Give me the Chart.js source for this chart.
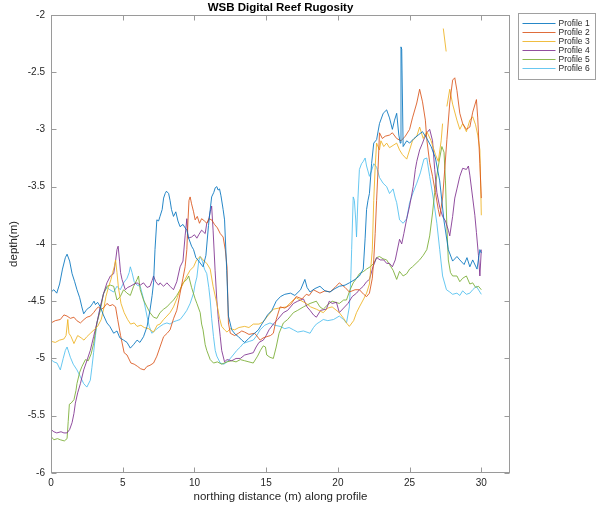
<!DOCTYPE html>
<html lang="en">
<head>
<meta charset="UTF-8">
<title>WSB Digital Reef Rugosity</title>
<style>
    html, body { margin: 0; padding: 0; background: #fff; }
    canvas { display: block; }
</style>
</head>
<body>
<canvas id="chart" width="597" height="507"></canvas>
<script src="https://cdn.jsdelivr.net/npm/chart.js@4.4.1/dist/chart.umd.min.js"></script>
<script>
    // northing distance (m) and depth (m), one pair of arrays per profile
    const dist1 = [
        0,0.2,0.4,0.6,0.8,1.0,1.12,1.3,1.47,1.65,
        1.81,2.0,2.15,2.28,2.45,2.6,2.74,2.9,3.0,3.1,
        3.25,3.44,3.65,3.9,4.1,4.37,4.6,4.8,5.06,5.3,
        5.53,5.75,6.0,6.2,6.45,6.7,6.9,7.05,7.15,7.25,
        7.38,7.5,7.6,7.75,7.85,7.96,8.05,8.2,8.3,8.4,
        8.54,8.7,8.85,9.0,9.2,9.35,9.47,9.6,9.8,9.94,
        10.1,10.3,10.6,10.8,10.98,11.1,11.2,11.35,11.45,11.56,
        11.65,11.75,11.85,12.0,12.1,12.25,12.37,12.6,12.85,13.07,
        13.3,13.5,13.75,14.0,14.2,14.46,14.7,14.9,15.1,15.4,
        15.7,16.0,16.3,16.7,17.0,17.4,17.7,17.85,18.06,18.4,
        18.75,19.1,19.45,19.8,20.1,20.5,20.8,21.2,21.5,21.77,
        21.9,22.0,22.1,22.2,22.35,22.5,22.7,22.9,23.16,23.4,
        23.6,23.8,23.95,24.1,24.25,24.35,24.4,24.45,24.55,24.8,
        25.0,25.3,25.6,25.9,26.2,26.5,26.8,27.1,27.4,27.7,
        28.0,28.3,28.5,28.8,29.0,29.2,29.4,29.7,29.9,30.0
    ];
    const depth1 = [
        -4.42,-4.40,-4.43,-4.35,-4.22,-4.12,-4.09,-4.15,-4.26,-4.33,
        -4.40,-4.47,-4.55,-4.61,-4.58,-4.56,-4.55,-4.52,-4.50,-4.53,
        -4.51,-4.55,-4.62,-4.69,-4.72,-4.78,-4.76,-4.82,-4.84,-4.86,
        -4.91,-4.88,-4.84,-4.86,-4.81,-4.72,-4.58,-4.45,-4.34,-4.05,
        -3.79,-3.80,-3.76,-3.70,-3.60,-3.56,-3.54,-3.56,-3.62,-3.70,
        -3.76,-3.72,-3.80,-3.85,-3.83,-3.86,-3.88,-3.95,-4.02,-4.05,
        -4.12,-4.15,-4.20,-4.10,-3.84,-3.70,-3.59,-3.55,-3.51,-3.50,
        -3.53,-3.52,-3.58,-3.70,-3.79,-4.23,-4.63,-4.75,-4.79,-4.81,
        -4.84,-4.86,-4.83,-4.80,-4.78,-4.75,-4.70,-4.66,-4.62,-4.58,
        -4.50,-4.46,-4.44,-4.43,-4.45,-4.40,-4.31,-4.38,-4.42,-4.39,
        -4.37,-4.41,-4.42,-4.39,-4.37,-4.36,-4.34,-4.31,-4.28,-4.22,
        -3.95,-3.70,-3.62,-3.56,-3.30,-3.12,-3.09,-2.95,-2.86,-2.83,
        -2.90,-3.00,-2.92,-2.86,-3.05,-3.12,-2.28,-2.30,-3.15,-3.10,
        -3.12,-3.08,-3.05,-3.02,-3.08,-3.15,-3.25,-3.45,-3.80,-4.05,
        -4.15,-4.11,-4.14,-4.18,-4.12,-4.20,-4.14,-4.22,-4.05,-4.08
    ];

    const dist2 = [
        0,0.3,0.65,0.9,1.12,1.35,1.6,1.8,2.05,2.3,
        2.5,2.75,2.97,3.15,3.3,3.5,3.65,3.9,4.1,4.3,
        4.5,4.65,4.85,5.1,5.3,5.57,5.8,6.04,6.25,6.5,
        6.69,6.9,7.15,7.38,7.6,7.85,8.1,8.3,8.55,8.77,
        9.0,9.2,9.35,9.47,9.55,9.62,9.7,9.8,9.94,10.05,
        10.2,10.35,10.5,10.7,10.86,11.0,11.2,11.4,11.6,11.8,
        12.0,12.15,12.27,12.37,12.5,12.8,13.07,13.3,13.5,13.8,
        14.2,14.58,14.8,15.04,15.3,15.5,15.7,15.97,16.3,16.7,
        17.1,17.5,17.8,18.0,18.29,18.75,19.1,19.45,19.8,20.1,
        20.5,20.8,21.2,21.5,21.8,22.0,22.2,22.4,22.5,22.6,
        22.7,22.8,22.9,23.1,23.3,23.6,23.8,24.1,24.4,24.7,
        25.0,25.2,25.5,25.7,25.9,26.1,26.2,26.4,26.6,26.8,
        27.0,27.1,27.3,27.45,27.6,27.8,28.0,28.15,28.3,28.5,
        28.7,28.96,29.2,29.4,29.66,29.75,29.9,30.0
    ];
    const depth2 = [
        -4.69,-4.67,-4.66,-4.62,-4.63,-4.65,-4.64,-4.67,-4.69,-4.66,
        -4.64,-4.63,-4.60,-4.57,-4.55,-4.57,-4.56,-4.52,-4.54,-4.53,
        -4.55,-4.66,-4.80,-4.95,-4.97,-5.04,-5.05,-5.07,-5.09,-5.10,
        -5.07,-5.06,-5.04,-4.98,-4.90,-4.81,-4.78,-4.75,-4.65,-4.58,
        -4.43,-4.30,-4.20,-4.05,-3.80,-3.62,-3.59,-3.65,-3.72,-3.79,
        -3.76,-3.82,-3.78,-3.80,-3.82,-3.78,-3.79,-3.83,-3.86,-3.91,
        -3.94,-4.05,-4.20,-4.69,-4.78,-4.80,-4.78,-4.76,-4.77,-4.79,
        -4.78,-4.84,-4.82,-4.81,-4.80,-4.78,-4.66,-4.55,-4.56,-4.53,
        -4.46,-4.48,-4.44,-4.45,-4.40,-4.43,-4.41,-4.42,-4.38,-4.34,
        -4.38,-4.42,-4.40,-4.40,-4.44,-4.46,-4.43,-4.30,-4.14,-3.91,
        -3.62,-3.35,-3.03,-3.08,-3.06,-3.05,-3.03,-3.08,-3.10,-3.06,
        -3.00,-2.90,-2.77,-2.65,-2.76,-2.92,-3.09,-3.29,-3.41,-3.55,
        -3.70,-3.76,-3.60,-3.35,-3.09,-2.77,-2.57,-2.55,-2.66,-2.86,
        -2.95,-3.00,-2.98,-2.85,-2.74,-2.90,-3.30,-3.60
    ];

    // profile 3 has a short detached piece near 27.4 m (null = break in the line)
    const dist3 = [
        0,0.3,0.6,0.9,1.05,1.17,1.25,1.4,1.6,1.86,
        2.1,2.3,2.5,2.75,3.0,3.25,3.5,3.7,3.83,4.0,
        4.18,4.3,4.41,4.5,4.6,4.7,4.88,5.1,5.34,5.55,
        5.8,6.0,6.27,6.5,6.8,7.15,7.4,7.6,7.85,8.08,
        8.3,8.54,8.8,9.0,9.2,9.47,9.7,9.94,10.15,10.4,
        10.6,10.86,11.1,11.3,11.56,11.75,11.9,12.1,12.27,12.5,
        12.8,13.1,13.5,13.8,14.1,14.5,14.8,15.1,15.5,15.9,
        16.4,16.8,17.1,17.5,17.8,18.1,18.5,18.98,19.3,19.6,
        20.1,20.4,20.6,20.8,21.1,21.3,21.5,21.8,22.0,22.2,
        22.4,22.5,22.6,22.7,22.9,23.0,23.2,23.4,23.6,23.85,
        24.1,24.3,24.5,24.8,25.0,25.2,25.5,25.7,25.95,26.2,
        26.5,26.8,27.0,27.2,27.3,27.32,27.35,27.45,27.55,27.58,
        27.6,27.8,28.0,28.3,28.5,28.7,28.96,29.2,29.4,29.6,
        29.75,29.9,30.0
    ];
    const depth3 = [
        -4.85,-4.86,-4.84,-4.83,-4.80,-4.66,-4.78,-4.81,-4.87,-4.80,
        -4.82,-4.84,-4.81,-4.78,-4.75,-4.72,-4.66,-4.55,-4.46,-4.38,
        -4.31,-4.25,-4.20,-4.14,-4.25,-4.38,-4.52,-4.60,-4.66,-4.70,
        -4.69,-4.72,-4.71,-4.73,-4.74,-4.77,-4.71,-4.70,-4.66,-4.63,
        -4.60,-4.55,-4.47,-4.40,-4.35,-4.28,-4.23,-4.20,-4.14,-4.11,
        -4.14,-4.17,-4.22,-4.37,-4.52,-4.65,-4.72,-4.75,-4.77,-4.74,
        -4.75,-4.73,-4.72,-4.73,-4.70,-4.70,-4.68,-4.63,-4.57,-4.56,
        -4.55,-4.50,-4.47,-4.50,-4.52,-4.55,-4.57,-4.60,-4.56,-4.55,
        -4.60,-4.65,-4.69,-4.72,-4.67,-4.60,-4.55,-4.48,-4.43,-4.35,
        -4.05,-3.62,-3.33,-3.12,-3.18,-3.10,-3.15,-3.12,-3.16,-3.14,
        -3.12,-3.18,-3.22,-3.26,-3.18,-3.10,-3.06,-2.98,-3.08,-3.02,
        -3.10,-3.22,-3.28,-3.10,-2.95,null,-2.12,-2.22,-2.32,null,
        -2.80,-2.65,-2.78,-2.92,-3.00,-2.95,-3.02,-2.92,-2.89,-2.96,
        -3.05,-3.18,-3.75
    ];

    const dist4 = [
        0,0.2,0.4,0.7,0.9,1.12,1.3,1.47,1.6,1.7,
        1.86,2.05,2.28,2.5,2.74,2.97,3.2,3.44,3.67,3.9,
        4.14,4.37,4.5,4.6,4.68,4.78,4.85,4.95,5.18,5.35,
        5.53,5.8,6.0,6.22,6.45,6.7,6.9,7.05,7.15,7.3,
        7.5,7.6,7.85,8.08,8.3,8.54,8.77,9.0,9.2,9.35,
        9.47,9.55,9.8,10.0,10.17,10.3,10.5,10.75,10.86,10.98,
        11.1,11.2,11.3,11.44,11.56,11.67,11.8,11.9,12.1,12.27,
        12.6,12.9,13.2,13.5,13.8,14.1,14.3,14.5,14.8,15.0,
        15.2,15.5,15.8,16.2,16.5,16.9,17.2,17.6,17.85,18.06,
        18.3,18.5,18.8,19.2,19.4,19.6,19.9,20.1,20.4,20.7,
        21.0,21.3,21.5,21.77,22.0,22.2,22.45,22.7,22.95,23.2,
        23.4,23.6,23.8,24.0,24.1,24.3,24.45,24.6,24.8,25.0,
        25.25,25.4,25.5,25.7,25.9,26.05,26.2,26.4,26.6,26.75,
        26.9,27.1,27.3,27.5,27.7,27.8,28.0,28.15,28.3,28.5,
        28.7,28.96,29.1,29.2,29.4,29.55,29.66,29.8,29.9,30.0
    ];
    const depth4 = [
        -5.62,-5.64,-5.65,-5.64,-5.65,-5.65,-5.62,-5.56,-5.48,-5.39,
        -5.30,-5.22,-5.10,-5.02,-4.93,-4.81,-4.69,-4.55,-4.43,-4.34,
        -4.28,-4.26,-4.15,-4.05,-4.02,-4.15,-4.25,-4.31,-4.40,-4.38,
        -4.37,-4.35,-4.34,-4.36,-4.34,-4.38,-4.37,-4.32,-4.28,-4.33,
        -4.36,-4.34,-4.37,-4.34,-4.37,-4.40,-4.33,-4.20,-4.15,-3.93,
        -3.78,-3.95,-3.94,-3.92,-3.95,-3.92,-3.88,-3.91,-3.82,-3.80,
        -3.72,-3.67,-3.88,-4.23,-4.49,-4.66,-4.81,-4.93,-5.03,-5.01,
        -5.02,-5.00,-5.00,-4.97,-4.96,-4.95,-4.90,-4.86,-4.84,-4.80,
        -4.75,-4.70,-4.66,-4.60,-4.58,-4.52,-4.50,-4.48,-4.55,-4.58,
        -4.62,-4.64,-4.58,-4.57,-4.50,-4.52,-4.51,-4.60,-4.56,-4.52,
        -4.46,-4.43,-4.40,-4.37,-4.33,-4.31,-4.20,-4.12,-4.14,-4.14,
        -4.17,-4.17,-4.20,-4.14,-4.08,-3.96,-4.00,-3.91,-3.78,-3.67,
        -3.50,-3.35,-3.28,-3.18,-3.12,-3.07,-3.03,-3.00,-3.10,-3.35,
        -3.55,-3.68,-3.76,-3.80,-3.88,-3.93,-3.76,-3.60,-3.52,-3.41,
        -3.34,-3.35,-3.32,-3.40,-3.60,-3.75,-3.90,-4.10,-4.28,-4.05
    ];

    const dist5 = [
        0,0.2,0.45,0.65,0.93,1.12,1.2,1.28,1.4,1.6,
        1.74,1.81,2.0,2.16,2.4,2.6,2.8,2.97,3.2,3.44,
        3.65,3.9,4.14,4.37,4.6,4.83,5.06,5.3,5.53,5.76,
        6.0,6.1,6.22,6.45,6.69,6.9,7.15,7.38,7.6,7.85,
        8.08,8.3,8.54,8.77,9.0,9.2,9.47,9.6,9.8,10.05,
        10.17,10.4,10.5,10.6,10.75,10.86,11.1,11.33,11.6,11.9,
        12.27,12.6,12.9,13.2,13.5,13.8,14.1,14.4,14.6,14.8,
        14.95,15.04,15.27,15.5,15.7,15.9,16.2,16.5,16.9,17.2,
        17.6,18.06,18.5,18.75,18.98,19.3,19.6,20.1,20.4,20.6,
        20.85,21.07,21.3,21.5,21.8,22.0,22.25,22.5,22.7,22.9,
        23.15,23.4,23.6,23.85,24.1,24.3,24.55,24.8,25.0,25.2,
        25.45,25.7,25.95,26.2,26.4,26.6,26.75,26.9,27.1,27.25,
        27.4,27.5,27.6,27.7,27.85,28.0,28.3,28.5,28.7,28.96,
        29.2,29.4,29.6,29.8,30.0
    ];
    const depth5 = [
        -5.68,-5.71,-5.70,-5.71,-5.72,-5.70,-5.55,-5.40,-5.39,-5.36,
        -5.28,-5.22,-5.12,-5.07,-5.01,-5.02,-4.96,-4.87,-4.69,-4.58,
        -4.44,-4.37,-4.36,-4.37,-4.49,-4.46,-4.40,-4.43,-4.45,-4.37,
        -4.31,-4.28,-4.40,-4.49,-4.55,-4.60,-4.64,-4.65,-4.60,-4.57,
        -4.55,-4.52,-4.49,-4.45,-4.40,-4.34,-4.31,-4.28,-4.38,-4.48,
        -4.52,-4.60,-4.70,-4.75,-4.88,-4.93,-5.01,-5.04,-5.03,-5.05,
        -5.03,-5.02,-5.03,-5.01,-5.02,-5.03,-5.04,-4.98,-4.93,-4.89,
        -4.90,-4.97,-4.99,-5.00,-4.90,-4.78,-4.69,-4.66,-4.60,-4.58,
        -4.55,-4.52,-4.50,-4.55,-4.57,-4.53,-4.50,-4.52,-4.49,-4.49,
        -4.40,-4.34,-4.30,-4.26,-4.24,-4.22,-4.20,-4.17,-4.12,-4.11,
        -4.13,-4.14,-4.18,-4.23,-4.31,-4.24,-4.28,-4.26,-4.22,-4.20,
        -4.17,-4.14,-4.10,-4.05,-3.93,-3.73,-3.55,-3.40,-3.25,-3.15,
        -3.20,-3.45,-3.85,-4.14,-4.25,-4.28,-4.28,-4.33,-4.30,-4.28,
        -4.35,-4.34,-4.38,-4.37,-4.40
    ];

    const dist6 = [
        0,0.2,0.42,0.65,0.85,1.0,1.12,1.35,1.55,1.81,
        2.05,2.28,2.5,2.74,2.85,2.97,3.1,3.2,3.44,3.67,
        3.9,4.1,4.37,4.6,4.83,5.06,5.3,5.45,5.53,5.65,
        5.8,6.0,6.22,6.45,6.69,6.85,7.03,7.3,7.6,7.85,
        8.08,8.3,8.54,8.77,9.0,9.25,9.47,9.7,9.94,10.05,
        10.17,10.3,10.4,10.55,10.7,10.86,11.0,11.1,11.2,11.33,
        11.45,11.56,11.8,12.05,12.27,12.5,12.7,12.95,13.2,13.4,
        13.6,13.85,14.1,14.35,14.58,14.9,15.27,15.6,15.97,16.3,
        16.6,16.9,17.2,17.6,18.06,18.3,18.5,18.75,18.98,19.3,
        19.7,20.1,20.4,20.6,20.8,20.9,20.96,21.07,21.15,21.25,
        21.3,21.4,21.5,21.65,21.77,21.9,22.0,22.2,22.35,22.5,
        22.7,22.9,23.15,23.4,23.6,23.85,24.0,24.1,24.3,24.55,
        24.8,25.0,25.25,25.5,25.75,26.0,26.2,26.4,26.65,26.9,
        27.1,27.3,27.57,27.8,28.0,28.3,28.5,28.7,28.96,29.2,
        29.4,29.65,29.9,30.0
    ];
    const depth6 = [
        -5.01,-5.03,-5.04,-5.10,-5.00,-4.93,-4.90,-4.99,-5.05,-5.10,
        -5.16,-5.22,-5.25,-5.19,-5.08,-4.95,-4.80,-4.69,-4.55,-4.43,
        -4.38,-4.40,-4.42,-4.37,-4.40,-4.34,-4.30,-4.25,-4.20,-4.25,
        -4.33,-4.36,-4.37,-4.48,-4.63,-4.72,-4.78,-4.75,-4.72,-4.70,
        -4.69,-4.70,-4.68,-4.67,-4.66,-4.62,-4.58,-4.52,-4.43,-4.35,
        -4.29,-4.15,-4.11,-4.15,-4.22,-4.26,-4.38,-4.49,-4.65,-4.81,
        -4.93,-4.98,-5.04,-5.05,-5.03,-5.00,-4.97,-4.93,-4.90,-4.87,
        -4.86,-4.85,-4.84,-4.80,-4.75,-4.71,-4.69,-4.71,-4.72,-4.74,
        -4.73,-4.75,-4.77,-4.76,-4.78,-4.73,-4.70,-4.68,-4.66,-4.67,
        -4.66,-4.63,-4.66,-4.69,-4.55,-4.30,-4.05,-3.59,-3.62,-3.80,
        -3.94,-3.60,-3.35,-3.30,-3.28,-3.25,-3.32,-3.41,-3.36,-3.30,
        -3.33,-3.42,-3.47,-3.50,-3.56,-3.52,-3.60,-3.64,-3.79,-3.82,
        -3.78,-3.64,-3.55,-3.47,-3.38,-3.26,-3.25,-3.41,-3.60,-3.82,
        -4.05,-4.28,-4.40,-4.42,-4.44,-4.43,-4.45,-4.41,-4.44,-4.43,
        -4.40,-4.37,-4.42,-4.44
    ];

    const profileNames = ['Profile 1', 'Profile 2', 'Profile 3', 'Profile 4', 'Profile 5', 'Profile 6'];
    const xTicks = [0, 5, 10, 15, 20, 25, 30];
    const yTicks = [-6, -5.5, -5, -4.5, -4, -3.5, -3, -2.5, -2];

    // matlab default line colours, a little see-through like the thin lines in the picture
    const lineColors = [
        'rgba(0,114,189,0.85)',
        'rgba(217,83,25,0.85)',
        'rgba(237,177,32,0.85)',
        'rgba(126,47,142,0.85)',
        'rgba(119,172,48,0.85)',
        'rgba(77,190,238,0.85)'
    ];

    const distances = [dist1, dist2, dist3, dist4, dist5, dist6];
    const depths = [depth1, depth2, depth3, depth4, depth5, depth6];

    // pair the two arrays into {x, y} points
    function toPoints(xs, ys) {
        return xs.map((v, i) => ({ x: v, y: ys[i] }));
    }

    const datasets = profileNames.map((name, i) => ({
        label: name,
        data: toPoints(distances[i], depths[i]),
        borderColor: lineColors[i],
        borderWidth: 1,
        pointRadius: 0,
        tension: 0,
        spanGaps: false
    }));

    // box round the axes with inward ticks, plus the boxed legend on the right
    const matlabAxes = {
        id: 'matlabAxes',
        afterDraw(chart) {
            const ctx = chart.ctx;
            const a = chart.chartArea;
            const xs = chart.scales.x;
            const ys = chart.scales.y;
            const L = Math.round(a.left) + 0.5, R = Math.round(a.right) - 0.5;
            const T = Math.round(a.top) + 0.5, B = Math.round(a.bottom) - 0.5;
            ctx.save();
            ctx.strokeStyle = '#9a9a9a';
            ctx.lineWidth = 1;
            ctx.strokeRect(L, T, R - L, B - T);
            const len = 5;
            ctx.beginPath();
            xs.ticks.forEach(t => {
                const px = Math.round(xs.getPixelForValue(t.value)) + 0.5;
                ctx.moveTo(px, B); ctx.lineTo(px, B - len);
                ctx.moveTo(px, T); ctx.lineTo(px, T + len);
            });
            ys.ticks.forEach(t => {
                const py = Math.round(ys.getPixelForValue(t.value)) + 0.5;
                ctx.moveTo(L, py); ctx.lineTo(L + len, py);
                ctx.moveTo(R, py); ctx.lineTo(R - len, py);
            });
            ctx.stroke();

            // legend
            const lx = 518.5, ly = 13.5, lw = 77, lh = 66;
            ctx.fillStyle = '#fff';
            ctx.fillRect(lx, ly, lw, lh);
            ctx.strokeStyle = '#a0a0a0';
            ctx.strokeRect(lx, ly, lw, lh);
            ctx.font = '8.5px "Liberation Sans", Arial, Helvetica, sans-serif';
            ctx.textBaseline = 'middle';
            ctx.textAlign = 'left';
            chart.data.datasets.forEach((ds, i) => {
                const ry = ly + 10 + i * 9;
                ctx.strokeStyle = ds.borderColor;
                ctx.beginPath();
                ctx.moveTo(lx + 4, ry);
                ctx.lineTo(lx + 37, ry);
                ctx.stroke();
                ctx.fillStyle = '#262626';
                ctx.fillText(ds.label, lx + 40, ry);
            });
            ctx.restore();
        }
    };

    Chart.defaults.font.family = '"Liberation Sans", Arial, Helvetica, sans-serif';
    Chart.defaults.color = '#262626';

    new Chart(document.getElementById('chart'), {
        type: 'line',
        data: { datasets: datasets },
        options: {
            responsive: false,
            animation: false,
            layout: { padding: { left: 0, right: 87, top: 0, bottom: 0 } },
            plugins: {
                legend: { display: false },
                tooltip: { enabled: false },
                title: {
                    display: true,
                    text: 'WSB Digital Reef Rugosity',
                    color: '#000',
                    fullSize: false,
                    font: { size: 11.5, weight: 'bold' },
                    padding: { top: 1, bottom: 0 }
                }
            },
            scales: {
                x: {
                    type: 'linear',
                    min: 0,
                    max: 32,
                    grid: { display: false, drawTicks: false },
                    border: { display: false },
                    afterBuildTicks: axis => { axis.ticks = xTicks.map(v => ({ value: v })); },
                    afterFit: axis => { axis.height = 34; },
                    ticks: { font: { size: 10 }, padding: 4, maxRotation: 0, autoSkip: false },
                    title: {
                        display: true,
                        text: 'northing distance (m) along profile',
                        font: { size: 11.5 },
                        padding: { top: 0, bottom: 3 }
                    }
                },
                y: {
                    type: 'linear',
                    min: -6,
                    max: -2,
                    grid: { display: false, drawTicks: false },
                    border: { display: false },
                    afterBuildTicks: axis => { axis.ticks = yTicks.map(v => ({ value: v })); },
                    afterFit: axis => { axis.width = 51; },
                    ticks: { font: { size: 10 }, padding: 6, autoSkip: false, callback: v => String(v) },
                    title: {
                        display: true,
                        text: 'depth(m)',
                        font: { size: 11.5 },
                        padding: { top: 7, bottom: 0 }
                    }
                }
            }
        },
        plugins: [matlabAxes]
    });
</script>
</body>
</html>
